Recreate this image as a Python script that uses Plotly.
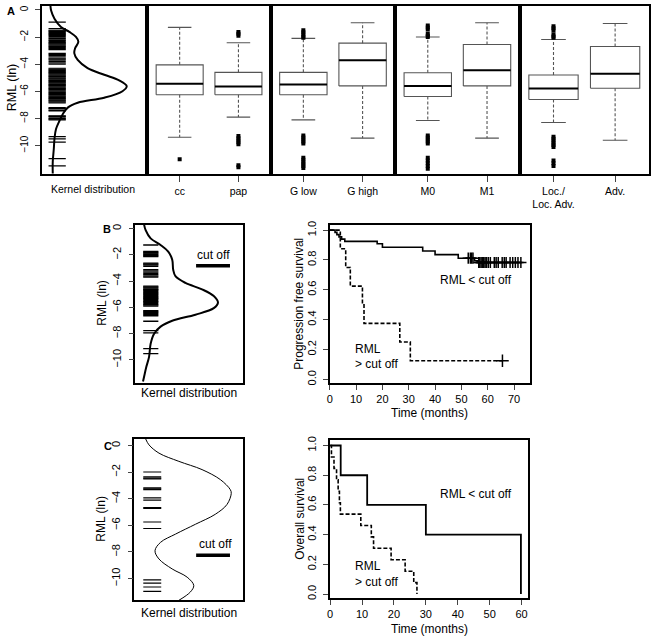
import plotly.graph_objects as go

W, H = 651, 640
FONT = "Liberation Sans, Arial, Helvetica, sans-serif"

# ---------------- DATA ----------------
# Panel A: kernel distribution of RML (ln) values (rug) and density curve
rugA = [-0.90, -1.38, -1.50, -1.55, -1.60, -1.68, -1.75, -1.80, -1.88, -1.95, -2.05, -2.10,
        -2.20, -2.25, -2.32, -2.40, -2.45, -2.50, -2.58, -2.65, -2.70, -2.78, -2.85, -2.92,
        -3.20, -3.28, -3.35, -3.45, -3.55, -3.62, -3.70, -3.80, -3.90, -4.00,
        -4.30, -4.36, -4.42, -4.48, -4.55, -4.60, -4.66, -4.72, -4.78, -4.85, -4.90, -4.96,
        -5.02, -5.08, -5.15, -5.20, -5.26, -5.32, -5.38, -5.45, -5.50, -5.56, -5.62, -5.68,
        -5.75, -5.80, -5.86, -5.92, -5.98, -6.05, -6.10, -6.16, -6.22, -6.28, -6.35, -6.40,
        -6.46, -6.52, -6.58, -6.65, -6.70, -6.78, -6.85,
        -7.20, -7.25, -7.30, -7.40, -7.45, -7.80, -7.85, -7.90, -8.00, -8.05, -8.10,
        -9.33, -9.50, -9.75, -10.96, -11.50]
densA_y = [0.31, -0.05, -0.65, -1.26, -1.62, -1.99, -2.35, -2.84, -3.20, -3.69, -4.29, -4.78,
           -5.19, -5.62, -5.99, -6.47, -6.84, -7.20, -7.69, -8.17, -8.78, -9.50, -10.23, -11.20, -12.05]
densA_x = [-0.010, -0.003, 0.032, 0.100, 0.187, 0.256, 0.281, 0.246, 0.239, 0.274, 0.377, 0.551,
           0.706, 0.785, 0.741, 0.551, 0.274, 0.170, 0.118, 0.084, 0.048, 0.032, 0.025, 0.014, 0.014]

# Panel A: boxplots
box_labels = ["cc", "pap", "G low", "G high", "M0", "M1", "Loc./<br>Loc. Adv.", "Adv."]
box_whisk_low = [-9.38, -7.90, -8.10, -9.45, -8.15, -9.45, -8.30, -9.60]
box_q1 = [-6.25, -6.25, -6.25, -5.60, -6.38, -5.60, -6.60, -5.77]
box_median = [-5.45, -5.65, -5.50, -3.70, -5.60, -4.44, -5.80, -4.70]
box_q3 = [-4.05, -4.60, -4.60, -2.45, -4.63, -2.55, -4.80, -2.70]
box_whisk_high = [-1.29, -2.42, -2.10, -0.95, -2.00, -0.95, -2.18, -1.00]
box_outliers = [
    [-11.0],
    [-1.62, -1.75, -1.90, -9.30, -9.45, -9.60, -9.75, -9.90, -11.45, -11.60],
    [-1.50, -1.65, -1.80, -1.95, -2.05, -9.25, -9.40, -9.55, -9.70, -9.85,
     -10.90, -11.05, -11.20, -11.35, -11.50, -11.65],
    [],
    [-1.15, -1.30, -1.45, -1.75, -1.90, -2.00, -9.25, -9.40, -9.55, -9.70, -9.85,
     -10.90, -11.10, -11.30, -11.50, -11.70],
    [],
    [-1.20, -1.35, -1.50, -1.80, -1.95, -2.05, -9.35, -9.50, -9.65, -9.80, -9.95, -10.10,
     -11.10, -11.30, -11.50],
    [],
]

# Panel B: kernel distribution
rugB = [-1.25, -1.75, -1.80, -1.87, -1.93, -2.00, -2.07, -2.13, -2.63, -2.70, -2.78, -2.88,
        -3.13, -3.22, -3.32, -3.42, -3.52, -3.62, -3.70, -4.38, -4.45, -4.52, -4.60, -4.66,
        -4.72, -4.80, -4.88, -4.95, -5.02, -5.10, -5.18, -5.25, -5.32, -5.38, -5.50, -5.56,
        -5.62, -5.72, -5.80, -5.90, -6.26, -6.32, -6.40, -6.47, -6.55, -6.64, -7.06, -7.77,
        -7.94, -9.14, -9.52]
densB_y = [0.30, -0.12, -0.75, -1.25, -1.75, -2.38, -3.13, -3.63, -4.14, -4.63, -5.14, -5.64,
           -6.06, -6.56, -7.02, -7.47, -8.02, -8.77, -9.77, -10.53, -11.28, -11.65]
densB_x = [-0.011, 0.005, 0.056, 0.158, 0.236, 0.277, 0.287, 0.310, 0.412, 0.582, 0.702, 0.745,
           0.702, 0.514, 0.277, 0.158, 0.090, 0.056, 0.040, 0.012, -0.011, -0.022]
cutB = -2.83

# Panel B: progression free survival (Kaplan-Meier)
pfs_low_t = [0, 2.0, 2.7, 3.5, 4.5, 5.7, 18.0, 20.0, 35.3, 40.0, 48.8, 55.0, 56.0, 73.0]
pfs_low_s = [1.0, 0.985, 0.970, 0.955, 0.940, 0.925, 0.909, 0.885, 0.860, 0.836, 0.812, 0.795, 0.783, 0.783]
pfs_low_cens = [52.6, 53.4, 53.9, 54.4, 56.6, 57.0, 57.5, 58.0, 58.5, 59.0, 59.5, 60.2, 61.0,
                62.5, 63.2, 64.0, 65.5, 66.3, 67.0, 68.5, 69.5, 70.5, 71.5, 72.6]
pfs_high_t = [0, 4.0, 6.05, 7.8, 12.4, 13.0, 26.6, 30.6, 65.6]
pfs_high_s = [1.0, 0.875, 0.75, 0.625, 0.5, 0.375, 0.25, 0.125, 0.125]
pfs_high_cens = [65.6]

# Panel C: kernel distribution
rugC = [-1.99, -2.36, -2.45, -2.51, -3.18, -3.25, -3.31, -3.93, -4.10, -4.67, -4.72, -5.75,
        -6.24, -10.10, -10.35, -10.64, -10.97]
densC_y = [0.50, 0.05, -0.57, -1.19, -1.81, -2.56, -3.31, -3.60, -4.43, -5.17, -5.92, -6.66,
           -7.28, -7.91, -8.53, -9.28, -9.90, -10.52, -11.01, -11.64]
densC_x = [0.014, 0.048, 0.149, 0.351, 0.586, 0.771, 0.872, 0.882, 0.839, 0.720, 0.519, 0.317,
           0.165, 0.109, 0.149, 0.283, 0.435, 0.502, 0.468, 0.351]
cutC = -8.25

# Panel C: overall survival (Kaplan-Meier)
os_low_t = [0, 3.3, 11.6, 30.0, 59.8]
os_low_s = [1.0, 0.8, 0.6, 0.4, 0.0]
os_high_t = [0, 0.4, 1.2, 2.0, 2.5, 2.9, 3.2, 9.6, 12.9, 13.6, 19.1, 23.5, 26.2, 27.2]
os_high_s = [1.0, 0.923, 0.846, 0.769, 0.692, 0.615, 0.538, 0.462, 0.385, 0.308, 0.231, 0.154, 0.077, 0.0]

# ---------------- HELPERS ----------------
def fx(p):
    return p / W

def fy(p):
    return 1 - p / H

def surv_at(ts, ss, t):
    val = ss[0]
    for ti, si in zip(ts, ss):
        if ti <= t:
            val = si
    return val

def merge(*ds, **kw):
    out = {}
    for d in ds:
        out.update(d)
    out.update(kw)
    return out

fig = go.Figure()

def rug_trace(vals, x0, x1, ax, width=1.2):
    xs, ys = [], []
    for v in vals:
        xs += [x0, x1, None]
        ys += [v, v, None]
    fig.add_trace(go.Scatter(x=xs, y=ys, mode="lines", line=dict(color="black", width=width),
                             xaxis=ax[0], yaxis=ax[1], hoverinfo="skip"))

# Panel A kernel
rug_trace(rugA, -0.03, 0.15, ("x", "y"))
fig.add_trace(go.Scatter(x=densA_x, y=densA_y, mode="lines", line=dict(color="black", width=2, shape="spline"),
                         xaxis="x", yaxis="y"))

# Panel A boxes
hw, cw = 0.4, 0.2
for i in range(len(box_labels)):
    ax = "x%d" % (i // 2 + 2)
    ay = "y%d" % (i // 2 + 2)
    c = i % 2 + 1
    fig.add_trace(go.Scatter(x=[c - hw, c + hw, c + hw, c - hw, c - hw],
                             y=[box_q1[i], box_q1[i], box_q3[i], box_q3[i], box_q1[i]],
                             mode="lines", line=dict(color="#555555", width=1.1), xaxis=ax, yaxis=ay))
    fig.add_trace(go.Scatter(x=[c - hw, c + hw], y=[box_median[i], box_median[i]], mode="lines",
                             line=dict(color="black", width=2), xaxis=ax, yaxis=ay))
    fig.add_trace(go.Scatter(x=[c, c, None, c, c], y=[box_q3[i], box_whisk_high[i], None, box_q1[i], box_whisk_low[i]],
                             mode="lines", line=dict(color="#555555", width=1.1, dash="3px,2px"), xaxis=ax, yaxis=ay))
    fig.add_trace(go.Scatter(x=[c - cw, c + cw, None, c - cw, c + cw],
                             y=[box_whisk_high[i], box_whisk_high[i], None, box_whisk_low[i], box_whisk_low[i]],
                             mode="lines", line=dict(color="#555555", width=1.1), xaxis=ax, yaxis=ay))
    if box_outliers[i]:
        fig.add_trace(go.Scatter(x=[c] * len(box_outliers[i]), y=box_outliers[i], mode="markers",
                                 marker=dict(symbol="square", size=4, color="black"), xaxis=ax, yaxis=ay))

# Panel B kernel
rug_trace(rugB, -0.02, 0.135, ("x6", "y6"), width=1.4)
fig.add_trace(go.Scatter(x=densB_x, y=densB_y, mode="lines", line=dict(color="black", width=2, shape="spline"),
                         xaxis="x6", yaxis="y6"))
fig.add_trace(go.Scatter(x=[0.521, 0.868], y=[cutB, cutB], mode="lines", line=dict(color="black", width=3.5),
                         xaxis="x6", yaxis="y6"))

# Panel B KM
fig.add_trace(go.Scatter(x=pfs_low_t, y=pfs_low_s, mode="lines", line=dict(color="black", width=1.6, shape="hv"),
                         xaxis="x7", yaxis="y7"))
fig.add_trace(go.Scatter(x=pfs_high_t, y=pfs_high_s, mode="lines",
                         line=dict(color="black", width=1.6, shape="hv", dash="4px,2px"), xaxis="x7", yaxis="y7"))
fig.add_trace(go.Scatter(x=pfs_low_cens, y=[surv_at(pfs_low_t, pfs_low_s, t) for t in pfs_low_cens],
                         mode="markers", marker=dict(symbol="cross-thin-open", size=8, color="black",
                                                     line=dict(color="black", width=1.5)),
                         xaxis="x7", yaxis="y7"))
fig.add_trace(go.Scatter(x=pfs_high_cens, y=[surv_at(pfs_high_t, pfs_high_s, t) for t in pfs_high_cens],
                         mode="markers", marker=dict(symbol="cross-thin-open", size=9, color="black",
                                                     line=dict(color="black", width=1.5)),
                         xaxis="x7", yaxis="y7"))

# Panel C kernel
rug_trace(rugC, -0.01, 0.172, ("x8", "y8"), width=1.2)
fig.add_trace(go.Scatter(x=densC_x, y=densC_y, mode="lines", line=dict(color="black", width=1, shape="spline"),
                         xaxis="x8", yaxis="y8"))
fig.add_trace(go.Scatter(x=[0.526, 0.869], y=[cutC, cutC], mode="lines", line=dict(color="black", width=3.5),
                         xaxis="x8", yaxis="y8"))

# Panel C KM
fig.add_trace(go.Scatter(x=os_low_t, y=os_low_s, mode="lines", line=dict(color="black", width=1.8, shape="hv"),
                         xaxis="x9", yaxis="y9"))
fig.add_trace(go.Scatter(x=os_high_t, y=os_high_s, mode="lines",
                         line=dict(color="black", width=1.6, shape="hv", dash="4px,2px"), xaxis="x9", yaxis="y9"))

# ---------------- LAYOUT ----------------
frame = dict(showline=True, linecolor="black", linewidth=1.6, mirror=True, showgrid=False, zeroline=False,
             ticks="", showticklabels=False)
lay = dict(width=W, height=H, margin=dict(l=0, r=0, t=0, b=0), paper_bgcolor="white", plot_bgcolor="white",
           showlegend=False, font=dict(family=FONT, color="black"))

yticks_rot = dict(ticks="outside", ticklen=5, tickwidth=1, showticklabels=True, tickangle=-90,
                  ticklabelstandoff=3)
xticks = dict(ticks="outside", ticklen=5, tickwidth=1, showticklabels=True)

# A
Ay = [fy(172), fy(2)]
Arange = [-12.12, 0.29]
Axpx = [39, 145, 269, 394, 519, 649]
for k in range(5):
    xn = "xaxis" if k == 0 else "xaxis%d" % (k + 1)
    yn = "yaxis" if k == 0 else "yaxis%d" % (k + 1)
    xd = merge(frame, domain=[fx(Axpx[k]), fx(Axpx[k + 1])], anchor="y" if k == 0 else "y%d" % (k + 1))
    yd = merge(frame, domain=Ay, range=Arange, anchor="x" if k == 0 else "x%d" % (k + 1))
    if k == 0:
        xd["range"] = [-0.1, 1.0]
        yd.update(yticks_rot)
        yd.update(tickvals=[0, -2, -4, -6, -8, -10], tickfont=dict(size=10, family=FONT))
    else:
        xd.update(xticks)
        xd.update(range=[0.45, 2.55], ticklen=6, tickvals=[1, 2],
                  ticktext=box_labels[2 * (k - 1):2 * (k - 1) + 2],
                  tickfont=dict(size=10.5, family=FONT))
    lay[xn] = xd
    lay[yn] = yd

# B kernel
lay["xaxis6"] = merge(frame, domain=[fx(133), fx(241)], range=[-0.1, 1.0], anchor="y6")
lay["yaxis6"] = merge(frame, yticks_rot, domain=[fy(383), fy(222.7)], range=[-11.79, 0.30], anchor="x6",
                      tickvals=[0, -2, -4, -6, -8, -10], tickfont=dict(size=11, family=FONT))
# B KM
lay["xaxis7"] = merge(frame, xticks, domain=[fx(328.3), fx(529)], range=[0, 75.9], anchor="y7",
                      tickvals=[0, 10, 20, 30, 40, 50, 60, 70], tickfont=dict(size=11, family=FONT))
lay["yaxis7"] = merge(frame, yticks_rot, domain=[fy(383), fy(222.7)], range=[-0.027, 1.037], anchor="x7",
                      tickvals=[0, 0.2, 0.4, 0.6, 0.8, 1.0], tickformat=".1f", tickfont=dict(size=11, family=FONT))
# C kernel
lay["xaxis8"] = merge(frame, domain=[fx(132), fx(241)], range=[-0.1, 1.0], anchor="y8")
lay["yaxis8"] = merge(frame, yticks_rot, domain=[fy(601.7), fy(439)], range=[-11.62, 0.50], anchor="x8",
                      tickvals=[0, -2, -4, -6, -8, -10], tickfont=dict(size=11, family=FONT))
# C KM
lay["xaxis9"] = merge(frame, xticks, domain=[fx(328.3), fx(527.7)], range=[-0.12, 62.1], anchor="y9",
                      tickvals=[0, 10, 20, 30, 40, 50, 60], tickfont=dict(size=11, family=FONT))
lay["yaxis9"] = merge(frame, yticks_rot, domain=[fy(600), fy(440)], range=[-0.029, 1.038], anchor="x9",
                      tickvals=[0, 0.2, 0.4, 0.6, 0.8, 1.0], tickformat=".1f", tickfont=dict(size=11, family=FONT))

fig.update_layout(**lay)

def ann(text, x, y, size=12, angle=0, bold=False, xanchor="center", yanchor="middle"):
    if bold:
        text = "<b>%s</b>" % text
    fig.add_annotation(text=text, x=fx(x), y=fy(y), xref="paper", yref="paper", showarrow=False,
                       font=dict(size=size, family=FONT, color="black"), textangle=angle,
                       xanchor=xanchor, yanchor=yanchor)

ann("A", 8, 7, size=11, bold=True)
ann("B", 104, 227, size=11, bold=True)
ann("C", 105, 446, size=11, bold=True)
ann("RML (ln)", 9, 84, size=12.5, angle=-90)
ann("RML (ln)", 100, 302, size=12, angle=-90)
ann("RML (ln)", 99, 520, size=12, angle=-90)
ann("Kernel distribution", 90, 187, size=10.5)
ann("Kernel distribution", 187, 393, size=12)
ann("Kernel distribution", 187, 615, size=12)
ann("cut off", 211, 253, size=12)
ann("cut off", 213, 545, size=12)
ann("Progression free survival", 298, 303, size=12, angle=-90)
ann("Overall survival", 298, 520, size=12, angle=-90)
ann("Time (months)", 428, 413, size=12)
ann("Time (months)", 428, 631, size=12)
ann("RML &lt; cut off", 475, 279, size=12)
ann("RML &lt; cut off", 475, 495, size=12)
ann("RML", 352, 348, size=12, xanchor="left")
ann("&gt; cut off", 352, 363, size=12, xanchor="left")
ann("RML", 352, 567, size=12, xanchor="left")
ann("&gt; cut off", 352, 583, size=12, xanchor="left")

fig.write_html("out.html", config={"displayModeBar": False},
               post_script="document.body.style.margin='0';document.body.style.padding='0';")
